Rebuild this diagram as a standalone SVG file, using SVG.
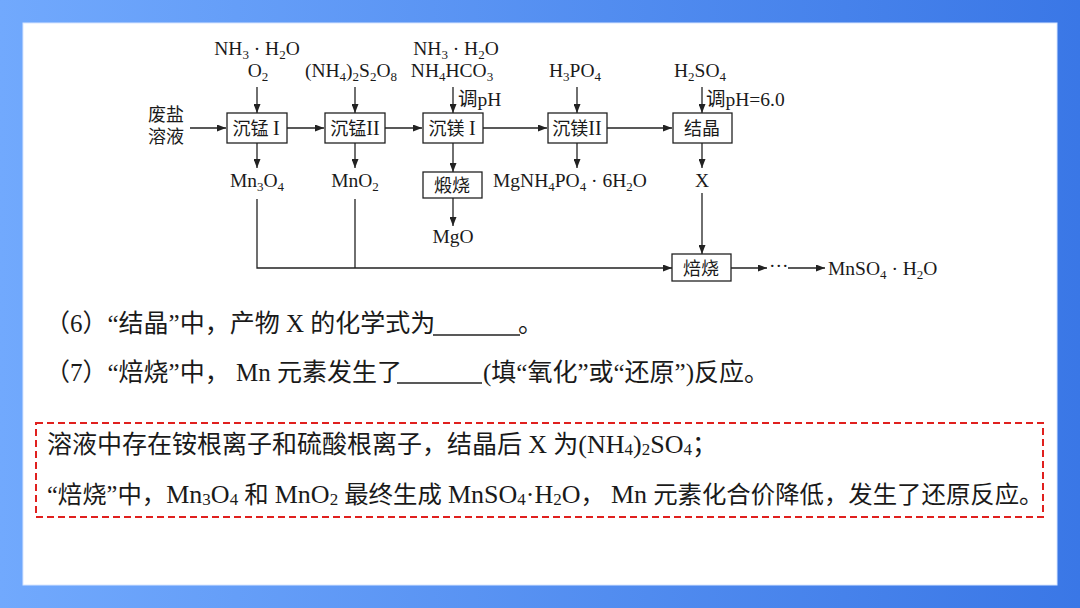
<svg xmlns="http://www.w3.org/2000/svg" width="1080" height="608" viewBox="0 0 1080 608">
<defs>
<linearGradient id="bg" x1="0" y1="0" x2="1" y2="0">
<stop offset="0" stop-color="#71a9fd"/>
<stop offset="1" stop-color="#3a77e6"/>
</linearGradient>
<marker id="ah" viewBox="0 0 9 7" refX="9" refY="3.5" markerWidth="9" markerHeight="7" markerUnits="userSpaceOnUse" orient="auto">
<path d="M0,0 L9,3.5 L0,7 z" fill="#222"/>
</marker>
<style>
.t{font-family:"Liberation Serif","Noto Sans CJK SC",serif;font-size:18px;fill:#1a1a1a}
.m{font-family:"Liberation Serif","Noto Sans CJK SC",serif;font-size:19.5px;fill:#1a1a1a}
.s{font-size:13px}
.q{font-family:"Liberation Serif","Noto Sans CJK SC",serif;font-size:25px;fill:#1a1a1a}
.q2{font-size:24.4px}
.r{font-size:26px}
.rs{font-size:17px}
.box{fill:#fff;stroke:#222;stroke-width:1.3}
.ln{stroke:#222;stroke-width:1.3;fill:none}
.a{marker-end:url(#ah)}
.red{fill:none;stroke:#e0201e;stroke-width:2;stroke-dasharray:7,4}
</style>
</defs>
<rect x="0" y="0" width="1080" height="608" fill="url(#bg)"/>
<rect x="23" y="23" width="1034" height="562" fill="#fff" stroke="#d8e6ff" stroke-width="1"/>

<g id="connectors">
<path class="ln a" d="M190,128 H226"/>
<path class="ln a" d="M287,128 H324"/>
<path class="ln a" d="M385,128 H422"/>
<path class="ln a" d="M483,128 H547"/>
<path class="ln a" d="M607,128 H672"/>
<path class="ln a" d="M257,87 V113"/>
<path class="ln a" d="M355,87 V113"/>
<path class="ln a" d="M453,87 V113"/>
<path class="ln a" d="M577,87 V113"/>
<path class="ln a" d="M702,87 V113"/>
<path class="ln a" d="M257,143 V168"/>
<path class="ln a" d="M355,143 V168"/>
<path class="ln a" d="M453,143 V172"/>
<path class="ln a" d="M577,143 V168"/>
<path class="ln a" d="M702,143 V168"/>
<path class="ln a" d="M453,198 V226"/>
<path class="ln a" d="M257,199 V268 H672"/>
<path class="ln" d="M355,199 V268"/>
<path class="ln a" d="M702,193 V254"/>
<path class="ln a" d="M731,268 H767"/>
<path class="ln a" d="M788,268 H825"/>
</g>

<g id="feed">
<text class="t" x="148" y="121">废盐</text>
<text class="t" x="148" y="143">溶液</text>
</g>

<g id="reagent1">
<text class="m" x="257" y="55" text-anchor="middle">NH<tspan class="s" dy="4">3</tspan><tspan dy="-4"> · H</tspan><tspan class="s" dy="4">2</tspan><tspan dy="-4">O</tspan></text>
<text class="m" x="258" y="77" text-anchor="middle">O<tspan class="s" dy="4">2</tspan></text>
</g>
<g id="reagent2">
<text class="m" x="351" y="77" text-anchor="middle">(NH<tspan class="s" dy="4">4</tspan><tspan dy="-4">)</tspan><tspan class="s" dy="4">2</tspan><tspan dy="-4">S</tspan><tspan class="s" dy="4">2</tspan><tspan dy="-4">O</tspan><tspan class="s" dy="4">8</tspan></text>
</g>
<g id="reagent3">
<text class="m" x="456" y="55" text-anchor="middle">NH<tspan class="s" dy="4">3</tspan><tspan dy="-4"> · H</tspan><tspan class="s" dy="4">2</tspan><tspan dy="-4">O</tspan></text>
<text class="m" x="452" y="77" text-anchor="middle">NH<tspan class="s" dy="4">4</tspan><tspan dy="-4">HCO</tspan><tspan class="s" dy="4">3</tspan></text>
<text class="m" x="458" y="106">调pH</text>
</g>
<g id="reagent4">
<text class="m" x="575" y="77" text-anchor="middle">H<tspan class="s" dy="4">3</tspan><tspan dy="-4">PO</tspan><tspan class="s" dy="4">4</tspan></text>
</g>
<g id="reagent5">
<text class="m" x="700" y="77" text-anchor="middle">H<tspan class="s" dy="4">2</tspan><tspan dy="-4">SO</tspan><tspan class="s" dy="4">4</tspan></text>
<text class="m" x="706" y="106">调pH=6.0</text>
</g>

<g id="chenmeng1">
<rect class="box" x="227" y="113" width="60" height="30"/>
<text class="t" x="256" y="135" text-anchor="middle">沉锰 <tspan font-size="20">I</tspan></text>
</g>
<g id="chenmeng2">
<rect class="box" x="325" y="113" width="60" height="30"/>
<text class="t" x="355" y="135" text-anchor="middle">沉锰<tspan font-size="20">II</tspan></text>
</g>
<g id="chenmei1">
<rect class="box" x="423" y="113" width="60" height="30"/>
<text class="t" x="452" y="135" text-anchor="middle">沉镁 <tspan font-size="20">I</tspan></text>
</g>
<g id="chenmei2">
<rect class="box" x="548" y="113" width="59" height="30"/>
<text class="t" x="577" y="135" text-anchor="middle">沉镁<tspan font-size="20">II</tspan></text>
</g>
<g id="jiejing">
<rect class="box" x="673" y="113" width="59" height="30"/>
<text class="t" x="702" y="135" text-anchor="middle">结晶</text>
</g>
<g id="duanshao">
<rect class="box" x="423" y="172" width="59" height="26"/>
<text class="t" x="452" y="192" text-anchor="middle">煅烧</text>
</g>
<g id="beishao">
<rect class="box" x="672" y="254" width="59" height="27"/>
<text class="t" x="701" y="275" text-anchor="middle">焙烧</text>
</g>

<g id="products">
<text class="m" x="257" y="187" text-anchor="middle">Mn<tspan class="s" dy="4">3</tspan><tspan dy="-4">O</tspan><tspan class="s" dy="4">4</tspan></text>
<text class="m" x="355" y="187" text-anchor="middle">MnO<tspan class="s" dy="4">2</tspan></text>
<text class="m" x="493" y="187">MgNH<tspan class="s" dy="4">4</tspan><tspan dy="-4">PO</tspan><tspan class="s" dy="4">4</tspan><tspan dy="-4"> · 6H</tspan><tspan class="s" dy="4">2</tspan><tspan dy="-4">O</tspan></text>
<text class="m" x="702" y="187" text-anchor="middle">X</text>
<text class="m" x="453" y="243" text-anchor="middle">MgO</text>
<text class="m" x="769" y="272">···</text>
<text class="m" x="828" y="275">MnSO<tspan class="s" dy="4">4</tspan><tspan dy="-4"> · H</tspan><tspan class="s" dy="4">2</tspan><tspan dy="-4">O</tspan></text>
</g>

<g id="questions">
<text class="q" x="45" y="332">（6）“结晶”中，产物 X 的化学式为</text>
<path class="ln" d="M433,335 H520"/>
<text class="q" x="518" y="332">。</text>
<text class="q" x="45" y="381">（7）“焙烧”中， Mn 元素发生了</text>
<path class="ln" d="M397,383 H482"/>
<text class="q" x="483" y="381">(填“氧化”或“还原”)反应。</text>
</g>

<g id="answer">
<rect class="red" x="36" y="423" width="1007" height="94"/>
<text class="q" x="47" y="453">溶液中存在铵根离子和硫酸根离子，结晶后 <tspan class="r">X</tspan> 为<tspan class="r">(NH</tspan><tspan class="rs" dy="2">4</tspan><tspan class="r" dy="-2">)</tspan><tspan class="rs" dy="2">2</tspan><tspan class="r" dy="-2">SO</tspan><tspan class="rs" dy="2">4</tspan><tspan dy="-2">；</tspan></text>
<text class="q q2" x="47" y="503">“焙烧”中，<tspan class="r">Mn</tspan><tspan class="rs" dy="2">3</tspan><tspan class="r" dy="-2">O</tspan><tspan class="rs" dy="2">4</tspan><tspan dy="-2"> 和 </tspan><tspan class="r">MnO</tspan><tspan class="rs" dy="2">2</tspan><tspan dy="-2"> 最终生成 </tspan><tspan class="r">MnSO</tspan><tspan class="rs" dy="2">4</tspan><tspan class="r" dy="-2">·H</tspan><tspan class="rs" dy="2">2</tspan><tspan class="r" dy="-2">O</tspan>， <tspan class="r">Mn</tspan> 元素化合价降低，发生了还原反应。</text>
</g>
</svg>
